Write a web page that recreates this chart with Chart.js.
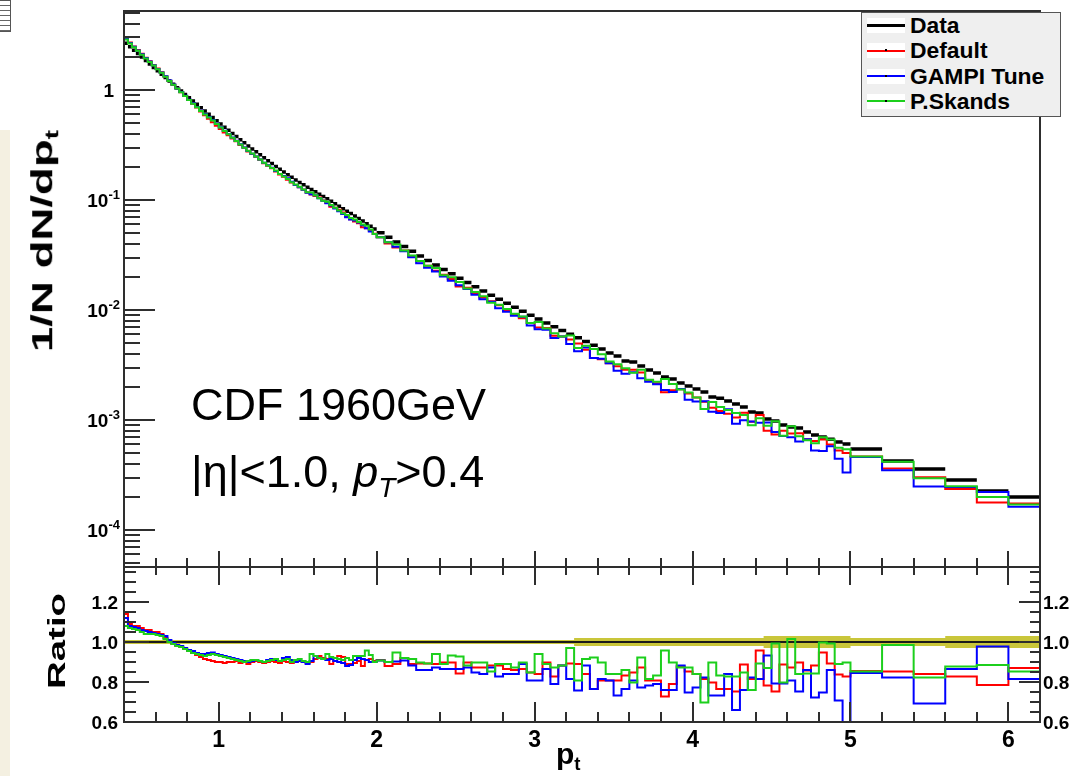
<!DOCTYPE html>
<html>
<head>
<meta charset="utf-8">
<script src="https://cdn.jsdelivr.net/npm/chart.js@4.4.1/dist/chart.umd.min.js"></script>
<style>
  html, body { margin: 0; padding: 0; background: #fff; }
  body { position: relative; width: 1073px; height: 776px; overflow: hidden; font-family: "Liberation Sans", Arial, sans-serif; }
  canvas { position: absolute; left: 0; top: 0; }
  #strip { position: absolute; left: 0; top: 130px; width: 10px; height: 646px; background: #f4f0e1; }
  #icon { position: absolute; left: 0; top: 0; width: 10px; height: 30px; border: 1px solid #555; border-left: none;
          background: repeating-linear-gradient(to bottom, #fff 0 4px, #666 4px 5px); }
  .title { position: absolute; font-weight: bold; white-space: nowrap; color: #000; }
  .title sub { font-size: 62%; vertical-align: -0.3em; }
  #ytitle { left: 44px; top: 241px; font-size: 30px; transform: translate(-50%, -50%) rotate(-90deg) scaleX(1.52); }
  #rtitle { left: 57px; top: 641px; font-size: 24px; transform: translate(-50%, -50%) rotate(-90deg) scaleX(1.6); }
  #xtitle { left: 556px; top: 737px; font-size: 30px; }
  #note { position: absolute; left: 191px; top: 371px; font-size: 45px; line-height: 67px; color: #000; white-space: nowrap; }
  #note sub { font-size: 62%; vertical-align: -0.35em; }
  #legend { position: absolute; left: 861px; top: 12px; width: 200px; height: 105px; box-sizing: border-box;
            border: 1.5px solid #555; background: #efefef; }
  .entry { position: absolute; left: 0; width: 198px; height: 25px; }
  .swatch { position: absolute; left: 5px; top: 5px; width: 38px; height: 15px; background: #fff; }
  .stroke { position: absolute; left: 0; right: 0; top: 50%; }
  .dot { position: absolute; left: 18px; top: 6px; width: 2px; height: 2px; background: #000; }
  .name { position: absolute; left: 48px; top: 0; line-height: 25px; font-size: 22px; font-weight: bold; color: #000;
          transform: scaleX(1.04); transform-origin: left center; }
</style>
</head>
<body>
<div id="strip"></div>
<div id="icon"></div>
<canvas id="spectrum" width="1073" height="776"></canvas>
<canvas id="ratio" width="1073" height="776"></canvas>
<div class="title" id="ytitle">1/N dN/dp<sub>t</sub></div>
<div class="title" id="rtitle">Ratio</div>
<div class="title" id="xtitle">p<sub>t</sub></div>
<div id="note">CDF 1960GeV<br>|η|&lt;1.0, <i>p<sub>T</sub></i>&gt;0.4</div>
<div id="legend"></div>

<script>
// bin edges in p_t (GeV/c)
const edges = [
  0.4, 0.425, 0.45, 0.475, 0.5, 0.525, 0.55, 0.575,
  0.6, 0.625, 0.65, 0.675, 0.7, 0.725, 0.75, 0.775,
  0.8, 0.825, 0.85, 0.875, 0.9, 0.925, 0.95, 0.975,
  1.0, 1.025, 1.05, 1.075, 1.1, 1.125, 1.15, 1.175,
  1.2, 1.225, 1.25, 1.275, 1.3, 1.325, 1.35, 1.375,
  1.4, 1.425, 1.45, 1.475, 1.5, 1.525, 1.55, 1.575,
  1.6, 1.625, 1.65, 1.675, 1.7, 1.725, 1.75, 1.775,
  1.8, 1.825, 1.85, 1.875, 1.9, 1.925, 1.95, 1.975,
  2.0, 2.05, 2.1, 2.15, 2.2, 2.25, 2.3, 2.35, 2.4, 2.45,
  2.5, 2.55, 2.6, 2.65, 2.7, 2.75, 2.8, 2.85, 2.9, 2.95,
  3.0, 3.05, 3.1, 3.15, 3.2, 3.25, 3.3, 3.35, 3.4, 3.45,
  3.5, 3.55, 3.6, 3.65, 3.7, 3.75, 3.8, 3.85, 3.9, 3.95,
  4.0, 4.05, 4.1, 4.15, 4.2, 4.25, 4.3, 4.35, 4.4, 4.45,
  4.5, 4.55, 4.6, 4.65, 4.7, 4.75, 4.8, 4.85, 4.9, 4.95,
  5.0, 5.2, 5.4, 5.6, 5.8, 6.0, 6.2
];

// CDF data, 1/N dN/dpt per bin
const dataVals = [
  2.657, 2.473, 2.301, 2.141, 1.992, 1.854, 1.725, 1.605,
  1.495, 1.393, 1.297, 1.209, 1.127, 1.050, 0.979, 0.912,
  0.851, 0.794, 0.740, 0.690, 0.644, 0.602, 0.562, 0.525,
  0.490, 0.459, 0.430, 0.402, 0.377, 0.353, 0.331, 0.310,
  0.2913, 0.2738, 0.2573, 0.2417, 0.2276, 0.2145, 0.2021, 0.1905,
  0.1798, 0.1700, 0.1608, 0.1521, 0.1443, 0.1374, 0.1309, 0.1246,
  0.1187, 0.1130, 0.1076, 0.1025, 0.0974, 0.0925, 0.0878, 0.0834,
  0.0792, 0.0752, 0.0714, 0.0678, 0.0643, 0.0609, 0.0576, 0.0546,
  0.0505, 0.0458, 0.0416, 0.0377, 0.0342, 0.0310, 0.0282, 0.0256, 0.0233, 0.0213,
  0.01943, 0.01776, 0.01624, 0.01487, 0.01363, 0.01252, 0.01150, 0.01057, 0.00973, 0.00897,
  0.00827, 0.00763, 0.00705, 0.00652, 0.00603, 0.00558, 0.00517, 0.00479, 0.00442, 0.00406,
  0.00382, 0.00344, 0.00337, 0.00310, 0.00285, 0.00268, 0.00246, 0.00236, 0.00217, 0.00204,
  0.00191, 0.00180, 0.00162, 0.00158, 0.00149, 0.00140, 0.00131, 0.00118, 0.00116, 0.00102,
  0.00098, 0.00090, 0.000864, 0.000846, 0.000778, 0.00073, 0.00070, 0.00067, 0.00063, 0.000605,
  0.000545, 0.000424, 0.000359, 0.000285, 0.000226, 0.000200
];

// relative uncertainty of the data (yellow band in the ratio)
const dataErr = [
  0.01, 0.01, 0.01, 0.01, 0.01, 0.01, 0.01, 0.01,
  0.01, 0.01, 0.01, 0.01, 0.01, 0.01, 0.01, 0.01,
  0.01, 0.01, 0.01, 0.01, 0.01, 0.01, 0.01, 0.01,
  0.01, 0.01, 0.01, 0.01, 0.01, 0.01, 0.01, 0.01,
  0.01, 0.01, 0.01, 0.01, 0.01, 0.01, 0.01, 0.01,
  0.01, 0.01, 0.01, 0.01, 0.01, 0.01, 0.01, 0.01,
  0.01, 0.01, 0.01, 0.01, 0.01, 0.01, 0.01, 0.01,
  0.01, 0.01, 0.01, 0.01, 0.01, 0.01, 0.01, 0.01,
  0.01, 0.01, 0.01, 0.01, 0.01, 0.01, 0.01, 0.01, 0.01, 0.01,
  0.01, 0.01, 0.01, 0.01, 0.01, 0.01, 0.01, 0.01, 0.01, 0.01,
  0.01, 0.01, 0.01, 0.01, 0.01, 0.02, 0.02, 0.02, 0.02, 0.02,
  0.02, 0.02, 0.02, 0.02, 0.02, 0.02, 0.02, 0.02, 0.02, 0.02,
  0.02, 0.02, 0.02, 0.02, 0.02, 0.02, 0.02, 0.02, 0.02, 0.03,
  0.03, 0.03, 0.03, 0.03, 0.03, 0.03, 0.03, 0.03, 0.03, 0.03,
  0.02, 0.02, 0.02, 0.03, 0.03, 0.03
];

// MC / data
const ratioDefault = [
  1.14, 1.09, 1.08, 1.08, 1.07, 1.06, 1.06, 1.05,
  1.05, 1.04, 1.02, 1.00, 0.99, 0.98, 0.975, 0.965,
  0.955, 0.945, 0.935, 0.925, 0.915, 0.91, 0.905, 0.90,
  0.90, 0.895, 0.90, 0.90, 0.905, 0.895, 0.90, 0.89,
  0.90, 0.905, 0.90, 0.895, 0.90, 0.905, 0.90, 0.895,
  0.905, 0.90, 0.895, 0.90, 0.905, 0.90, 0.895, 0.90,
  0.915, 0.93, 0.92, 0.915, 0.89, 0.92, 0.93, 0.925,
  0.89, 0.89, 0.895, 0.905, 0.88, 0.91, 0.915, 0.905,
  0.91, 0.88, 0.89, 0.92, 0.89, 0.893, 0.893, 0.89,
  0.898, 0.898, 0.843, 0.898, 0.873, 0.873, 0.882, 0.882,
  0.865, 0.86, 0.865, 0.848, 0.84, 0.898, 0.827, 0.882,
  0.893, 0.89, 0.84, 0.765, 0.807, 0.807, 0.807, 0.832,
  0.848, 0.873, 0.807, 0.807, 0.727, 0.79, 0.877, 0.853,
  0.84, 0.815, 0.798, 0.765, 0.765, 0.753, 0.887, 0.815,
  0.957, 0.782, 0.753, 0.887, 0.873, 0.898, 0.857, 0.882,
  0.948, 0.893, 0.837, 0.827,
  0.855, 0.853, 0.84, 0.827, 0.785, 0.87
];

const ratioGampi = [
  1.12, 1.08, 1.075, 1.07, 1.06, 1.055, 1.05, 1.045,
  1.04, 1.035, 1.03, 1.01, 0.995, 0.985, 0.98, 0.97,
  0.96, 0.955, 0.945, 0.94, 0.94, 0.945, 0.948, 0.94,
  0.935, 0.93, 0.925, 0.92, 0.915, 0.91, 0.905, 0.90,
  0.905, 0.91, 0.905, 0.90, 0.91, 0.915, 0.91, 0.905,
  0.92, 0.925, 0.91, 0.90, 0.905, 0.90, 0.89, 0.905,
  0.93, 0.92, 0.915, 0.91, 0.915, 0.905, 0.90, 0.895,
  0.88, 0.885, 0.91, 0.92, 0.915, 0.91, 0.90, 0.90,
  0.907, 0.90, 0.903, 0.907, 0.882, 0.86, 0.86, 0.873,
  0.865, 0.865, 0.865, 0.873, 0.848, 0.84, 0.873, 0.827,
  0.84, 0.84, 0.89, 0.807, 0.807, 0.865, 0.79, 0.882,
  0.815, 0.757, 0.882, 0.765, 0.815, 0.807, 0.732, 0.765,
  0.807, 0.773, 0.782, 0.79, 0.76, 0.76, 0.882, 0.748,
  0.773, 0.823, 0.732, 0.732, 0.84, 0.66, 0.76, 0.823,
  0.815, 0.932, 0.793, 0.793, 0.807, 0.753, 0.86, 0.723,
  0.748, 0.86, 0.707, 0.55,
  0.845, 0.823, 0.693, 0.865, 0.978, 0.815
];

const ratioSkands = [
  1.08, 1.07, 1.065, 1.06, 1.05, 1.04, 1.04, 1.04,
  1.035, 1.03, 1.015, 1.00, 0.99, 0.98, 0.975, 0.965,
  0.955, 0.945, 0.94, 0.935, 0.93, 0.935, 0.94, 0.935,
  0.93, 0.925, 0.92, 0.915, 0.91, 0.905, 0.90, 0.905,
  0.91, 0.91, 0.905, 0.90, 0.905, 0.91, 0.915, 0.905,
  0.91, 0.915, 0.90, 0.91, 0.915, 0.905, 0.90, 0.94,
  0.93, 0.92, 0.915, 0.94, 0.925, 0.92, 0.915, 0.91,
  0.92, 0.91, 0.93, 0.93, 0.93, 0.957, 0.935, 0.90,
  0.907, 0.90, 0.948, 0.92, 0.915, 0.898, 0.893, 0.94,
  0.89, 0.932, 0.927, 0.882, 0.898, 0.898, 0.853, 0.89,
  0.89, 0.873, 0.898, 0.848, 0.94, 0.89, 0.873, 0.882,
  0.97, 0.807, 0.915, 0.923, 0.898, 0.84, 0.84, 0.86,
  0.798, 0.923, 0.815, 0.832, 0.957, 0.898, 0.873, 0.873,
  0.84, 0.698, 0.898, 0.832, 0.827, 0.827, 0.848, 0.76,
  0.893, 0.87, 0.993, 0.798, 1.015, 0.84, 0.843, 0.843,
  0.998, 0.993, 0.89, 0.898,
  0.853, 0.985, 0.823, 0.878, 0.885, 0.853
];

const seriesNames = ['Data', 'Default', 'GAMPI Tune', 'P.Skands'];
const seriesColors = ['#000000', '#ff0000', '#0000ff', '#1ccf1c'];
const bandColor = '#c9c63a';
const xTicks = [1, 2, 3, 4, 5, 6];
const ratioTicks = [0.6, 0.8, 1.0, 1.2];
const decades = [0, -1, -2, -3, -4];

// MC spectra in the upper pad: data times the MC/data ratio
const mcDefault = dataVals.map((d, i) => d * ratioDefault[i]);
const mcGampi = dataVals.map((d, i) => d * ratioGampi[i]);
const mcSkands = dataVals.map((d, i) => d * ratioSkands[i]);

// histogram outline: one flat run per bin, neighbours share the edge
function outline(vals) {
  const pts = [];
  vals.forEach((v, i) => pts.push({ x: edges[i], y: v }, { x: edges[i + 1], y: v }));
  return pts;
}

// data drawn as separate bin-wide dashes
function dashes(vals) {
  const pts = [];
  vals.forEach((v, i) => pts.push({ x: edges[i], y: v }, { x: edges[i + 1], y: v }, { x: edges[i + 1], y: null }));
  return pts;
}

const axisColor = '#2e2e2e';
const font = size => `bold ${size}px "Liberation Sans", Arial, sans-serif`;

function seg(ctx, x1, y1, x2, y2) {
  ctx.moveTo(x1, y1);
  ctx.lineTo(x2, y2);
}

// p_t ticks every 0.2, long ones on integers; dir -1 points up, +1 down
function ptTicks(ctx, xs, y, dir, major, minor) {
  for (let i = 3; i < 31; i++) {
    const px = Math.round(xs.getPixelForValue(i * 0.2));
    seg(ctx, px, y, px, y + dir * (i % 5 === 0 ? major : minor));
  }
}

const spectrumAxes = {
  id: 'spectrumAxes',
  afterDatasetsDraw(chart) {
    const { ctx, chartArea: a } = chart;
    const xs = chart.scales.x, ys = chart.scales.y;
    ctx.save();
    ctx.strokeStyle = axisColor;
    ctx.lineWidth = 2;
    ctx.beginPath();
    ctx.rect(a.left, a.top, a.right - a.left, a.bottom - a.top);
    for (let e = -5; e <= 0; e++) {
      for (let m = 1; m <= 9; m++) {
        const v = m * Math.pow(10, e);
        if (v < ys.min || v > ys.max) continue;
        const py = Math.round(ys.getPixelForValue(v));
        seg(ctx, a.left, py, a.left + (m === 1 ? 31 : 16), py);
      }
    }
    ptTicks(ctx, xs, a.bottom, -1, 16, 9);
    ctx.stroke();

    ctx.fillStyle = '#000';
    decades.forEach(e => {
      const py = ys.getPixelForValue(Math.pow(10, e));
      if (e === 0) {
        ctx.font = font(19);
        ctx.textAlign = 'right';
        ctx.fillText('1', 114, py + 7);
        return;
      }
      ctx.font = font(13);
      const sup = '-' + (-e);
      const sw = ctx.measureText(sup).width;
      ctx.textAlign = 'left';
      ctx.fillText(sup, 120 - sw, py - 1);
      ctx.font = font(19);
      ctx.textAlign = 'right';
      ctx.fillText('10', 120 - sw, py + 7);
    });
    ctx.restore();
  }
};

const ratioAxes = {
  id: 'ratioAxes',
  afterDatasetsDraw(chart) {
    const { ctx, chartArea: a } = chart;
    const xs = chart.scales.x, ys = chart.scales.y;
    ctx.save();
    ctx.strokeStyle = axisColor;
    ctx.lineWidth = 2;
    ctx.beginPath();
    ctx.rect(a.left, a.top, a.right - a.left, a.bottom - a.top);
    for (let i = 12; i <= 27; i++) {
      const py = Math.round(ys.getPixelForValue(i * 0.05));
      const big = i % 4 === 0;
      seg(ctx, a.left, py, a.left + (big ? 25 : 12), py);
      seg(ctx, a.right, py, a.right - (big ? 21 : 10), py);
    }
    ptTicks(ctx, xs, a.top, 1, 18, 8);
    ptTicks(ctx, xs, a.bottom, -1, 20, 10);
    ctx.stroke();

    ctx.fillStyle = '#000';
    ctx.font = font(19);
    ratioTicks.forEach(v => {
      const py = ys.getPixelForValue(v) + 7;
      ctx.textAlign = 'right';
      ctx.fillText(v.toFixed(1), 118, py);
      ctx.textAlign = 'left';
      ctx.fillText(v.toFixed(1), 1043, py);
    });
    ctx.font = font(23);
    ctx.textAlign = 'center';
    xTicks.forEach(v => ctx.fillText(String(v), xs.getPixelForValue(v), 747));
    ctx.restore();
  }
};

const common = {
  responsive: false,
  animation: false,
  events: [],
  elements: { point: { radius: 0 }, line: { tension: 0, borderWidth: 2, fill: false } },
  plugins: { legend: { display: false }, tooltip: { enabled: false } }
};

// upper pad: spectrum, log scale
new Chart(document.getElementById('spectrum'), {
  type: 'line',
  data: {
    datasets: [
      { label: seriesNames[3], data: outline(mcSkands), borderColor: seriesColors[3], order: 0 },
      { label: seriesNames[2], data: outline(mcGampi), borderColor: seriesColors[2], order: 1 },
      { label: seriesNames[1], data: outline(mcDefault), borderColor: seriesColors[1], order: 2 },
      { label: seriesNames[0], data: dashes(dataVals), borderColor: seriesColors[0], borderWidth: 3.5, spanGaps: false, order: 3 }
    ]
  },
  options: {
    ...common,
    layout: { padding: { left: 124, top: 11, right: 33, bottom: 209 } },
    scales: {
      x: { type: 'linear', display: false, min: 0.4, max: 6.2 },
      y: { type: 'logarithmic', display: false, min: 4.61e-5, max: 5.224 }
    }
  },
  plugins: [spectrumAxes]
});

// lower pad: MC / data
new Chart(document.getElementById('ratio'), {
  type: 'line',
  data: {
    datasets: [
      { label: seriesNames[3], data: outline(ratioSkands), borderColor: seriesColors[3], order: 0 },
      { label: seriesNames[2], data: outline(ratioGampi), borderColor: seriesColors[2], order: 1 },
      { label: seriesNames[1], data: outline(ratioDefault), borderColor: seriesColors[1], order: 2 },
      { label: 'unity', data: [{ x: edges[0], y: 1 }, { x: edges[edges.length - 1], y: 1 }], borderColor: '#1a1a1a', order: 3 },
      { label: 'err+', data: outline(dataErr.map(e => 1 + e)), borderWidth: 0, fill: '+1', backgroundColor: bandColor, order: 4 },
      { label: 'err-', data: outline(dataErr.map(e => 1 - e)), borderWidth: 0, order: 5 }
    ]
  },
  options: {
    ...common,
    layout: { padding: { left: 124, top: 567, right: 33, bottom: 54 } },
    scales: {
      x: { type: 'linear', display: false, min: 0.4, max: 6.2 },
      y: { type: 'linear', display: false, min: 0.6, max: 1.375 }
    }
  },
  plugins: [ratioAxes]
});

// legend box
const legend = document.getElementById('legend');
seriesNames.forEach((name, i) => {
  const row = document.createElement('div');
  row.className = 'entry';
  row.style.top = (i * 25.3) + 'px';
  const w = i === 0 ? 3 : 2;
  row.innerHTML =
    `<span class="swatch"><span class="stroke" style="border-top:${w}px solid ${seriesColors[i]};margin-top:-${w / 2}px"></span>` +
    (i ? '<span class="dot"></span>' : '') + `</span><span class="name">${name}</span>`;
  legend.appendChild(row);
});
</script>
</body>
</html>
